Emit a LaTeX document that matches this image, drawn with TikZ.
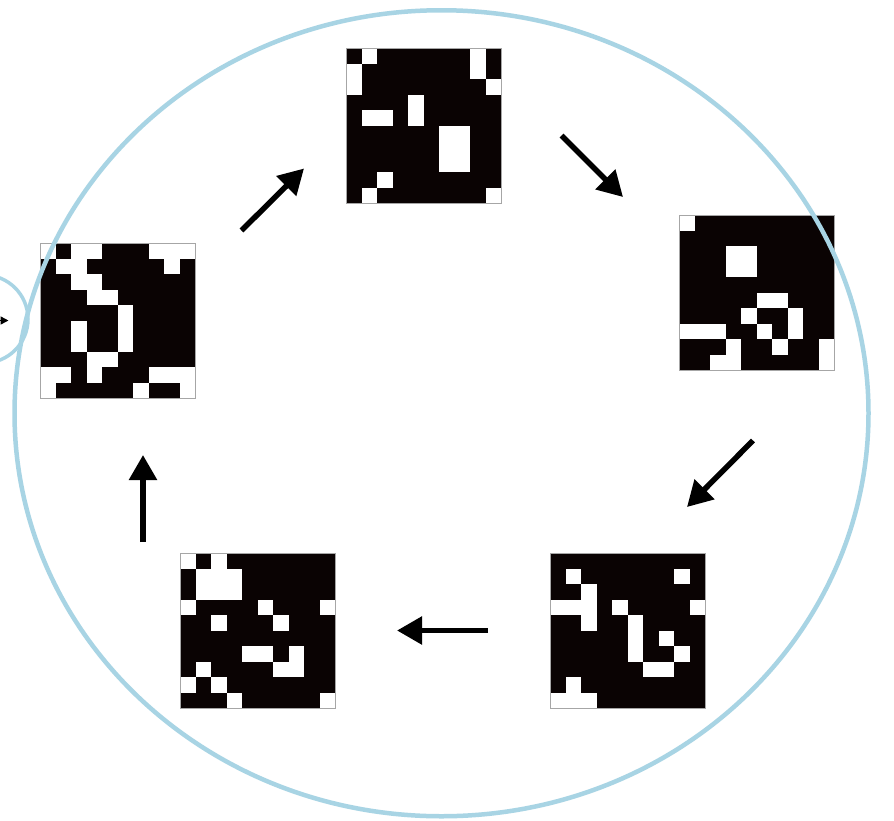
\documentclass[tikz,border=0pt]{standalone}
\usepackage{tikz}
\usetikzlibrary{
  arrows.meta,
  positioning
}
\definecolor{ringblue}{HTML}{A8D4E4}
\definecolor{cellblack}{HTML}{0A0303}

\begin{document}
\begin{tikzpicture}[
      x=1pt, y=-1pt,
      pixgrid/.style={
         rectangle,
         minimum size=155pt,
         inner sep=0pt, outer sep=0pt,
         fill=cellblack
      },
      pixon/.style={fill=white},
      gridedge/.style={draw=black!35, line width=0.6pt},
      ring/.style={draw=ringblue, line width=4.5pt},
      tip/.style={-{Triangle[length=25pt,width=27pt]}, line width=5.5pt, draw=black},
      point/.style={coordinate}
    ]
    \clip (0,0) rectangle (894,820);
    \fill[white] (0,0) rectangle (894,820);

    % the five grids
    \node (gtop)   [pixgrid] at (423.5,125.5) {};
    \node (gright) [pixgrid] at (756.5,292.5) {};
    \node (gbr)    [pixgrid] at (627.5,630.5) {};
    \node (gbl)    [pixgrid] at (257.5,630.5) {};
    \node (gleft)  [pixgrid] at (117.5,320.5) {};

    \begin{scope}[shift={(gtop.north west)}]
      \foreach \c/\r in {1/0,8/0,0/1,8/1,0/2,9/2,4/3,1/4,2/4,4/4,6/5,7/5,6/6,7/6,6/7,7/7,2/8,1/9,9/9}
        \path[pixon] (\c*15.5,\r*15.5) rectangle ++(15.5,15.5);
    \end{scope}
    \begin{scope}[shift={(gright.north west)}]
      \foreach \c/\r in {0/0,3/2,4/2,3/3,4/3,5/5,6/5,4/6,7/6,0/7,1/7,2/7,5/7,7/7,3/8,6/8,9/8,2/9,3/9,9/9}
        \path[pixon] (\c*15.5,\r*15.5) rectangle ++(15.5,15.5);
    \end{scope}
    \begin{scope}[shift={(gbr.north west)}]
      \foreach \c/\r in {1/1,8/1,2/2,0/3,1/3,2/3,4/3,9/3,2/4,5/4,5/5,7/5,5/6,8/6,6/7,7/7,1/8,0/9,1/9,2/9}
        \path[pixon] (\c*15.5,\r*15.5) rectangle ++(15.5,15.5);
    \end{scope}
    \begin{scope}[shift={(gbl.north west)}]
      \foreach \c/\r in {0/0,2/0,1/1,2/1,3/1,1/2,2/2,3/2,0/3,5/3,9/3,2/4,6/4,4/6,5/6,7/6,1/7,6/7,7/7,0/8,2/8,3/9,9/9}
        \path[pixon] (\c*15.5,\r*15.5) rectangle ++(15.5,15.5);
    \end{scope}
    \begin{scope}[shift={(gleft.north west)}]
      \foreach \c/\r in {0/0,2/0,3/0,7/0,8/0,9/0,1/1,2/1,8/1,2/2,3/2,3/3,4/3,5/4,2/5,5/5,2/6,5/6,3/7,4/7,0/8,1/8,3/8,7/8,8/8,9/8,0/9,6/9,9/9}
        \path[pixon] (\c*15.5,\r*15.5) rectangle ++(15.5,15.5);
    \end{scope}
    \foreach \g in {gtop,gright,gbr,gbl,gleft}
      \path[gridedge] (\g.north west) rectangle (\g.south east);

    % arrow ends
    \node (a1s) [point] at (241.5,230.5) {};
    \node (a1e) [point] at (304,168.5) {};
    \node (a2s) [point] at (561.5,135.5) {};
    \node (a2e) [point] at (623,197) {};
    \node (a3s) [point] at (753,440.5) {};
    \node (a3e) [point] at (687,507) {};
    \node (a4s) [point] at (488,630.5) {};
    \node (a4e) [point] at (397,630.5) {};
    \node (a5s) [point] at (143,542) {};
    \node (a5e) [point] at (143,455) {};
    \node (ins) [point] at (-30,320.5) {};
    \node (ine) [point] at (8.5,320.5) {};

    \draw[tip] (a1s) -- (a1e);
    \draw[tip] (a2s) -- (a2e);
    \draw[tip] (a3s) -- (a3e);
    \draw[tip] (a4s) -- (a4e);
    \draw[tip] (a5s) -- (a5e);
    \draw[-{Triangle[length=8pt,width=8pt]}, line width=1.5pt] (ins) -- (ine);

    % rings
    \draw[ring, line width=3.5pt] (-16,319) circle[radius=44];
    \draw[ring] (441.5,413.25) ellipse[x radius=427, y radius=403];
\end{tikzpicture}
\end{document}
